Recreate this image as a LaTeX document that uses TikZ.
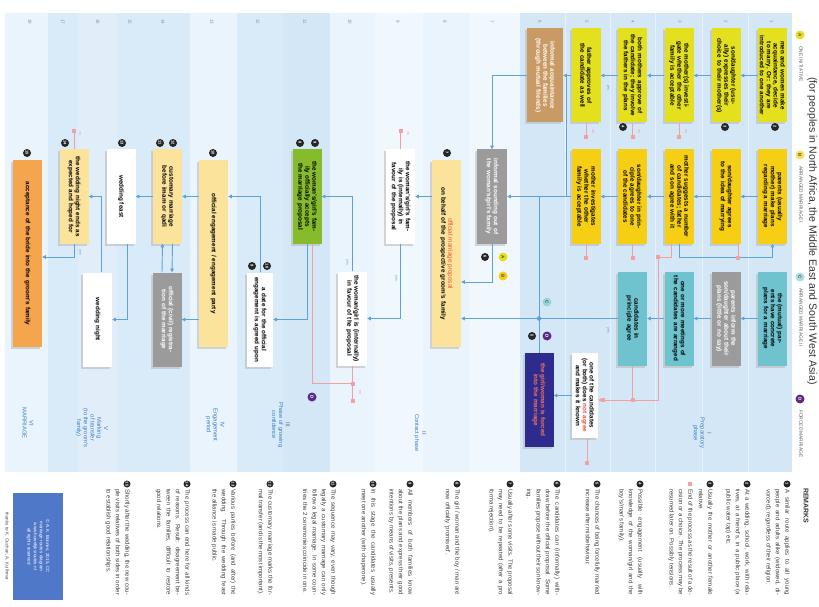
\documentclass[tikz,border=0pt]{standalone}
\usepackage{fontspec}
\setmainfont{Liberation Sans}
\usetikzlibrary{arrows.meta,shadows}
\definecolor{laneA}{HTML}{E4E01E}
\definecolor{laneB}{HTML}{F6CF14}
\definecolor{pale}{HTML}{FBE39C}
\definecolor{cteal}{HTML}{6FC3CF}
\definecolor{greyb}{HTML}{9B9B9B}
\definecolor{ctan}{HTML}{C99A63}
\definecolor{grass}{HTML}{86BC2C}
\definecolor{orng}{HTML}{F5A54E}
\definecolor{navy}{HTML}{2D2B8E}
\definecolor{flowblue}{HTML}{5EA2DA}
\definecolor{nopepink}{HTML}{F3A0A0}
\definecolor{alarm}{HTML}{F0503A}
\definecolor{phaseblue}{HTML}{3B7CC4}
\definecolor{fpurple}{HTML}{5A2A86}
\definecolor{creditblue}{HTML}{5078C8}
\definecolor{bgA}{HTML}{D4E7F6}
\definecolor{bgB}{HTML}{D9EBF8}
\definecolor{bgC}{HTML}{EAF4FC}
\definecolor{bgD}{HTML}{E1EEF9}
\definecolor{bgE}{HTML}{F1F8FD}
\tikzset{
  box/.style={rotate=-90, inner sep=1.5pt, align=center,
    font=\fontsize{6.3}{6.9}\selectfont\bfseries,
    drop shadow={shadow xshift=-2pt, shadow yshift=-2pt, fill=black!30}},
  lanebox/.style={box, minimum width=94pt, text width=87pt, minimum height=29pt},
  tallbox/.style={box, minimum width=187pt, text width=178pt, minimum height=29pt},
  flow/.style={draw=flowblue, line width=.9pt, -{Triangle[length=3.6pt,width=3.6pt]}},
  link/.style={draw=flowblue, line width=.9pt},
  nope/.style={draw=nopepink, line width=.9pt},
  stopdot/.style={rectangle, fill=nopepink, minimum size=4pt, inner sep=0pt},
  jdot/.style={circle, fill=flowblue, minimum size=4.5pt, inner sep=0pt},
  badge/.style={circle, fill=black!85, text=white, minimum size=8pt, inner sep=0pt, rotate=-90,
    font=\fontsize{4}{4}\selectfont\bfseries},
  pathtag/.style={circle, minimum size=9pt, inner sep=0pt, rotate=-90,
    font=\fontsize{4.5}{4.5}\selectfont\bfseries, text=black!70},
  rownum/.style={rotate=-90, font=\fontsize{4.5}{4.5}\selectfont, text=black!45},
  legtext/.style={rotate=-90, anchor=west, inner sep=0pt, font=\fontsize{4.8}{5}\selectfont, text=black!65},
  phaselab/.style={rotate=-90, align=center, text=phaseblue, font=\fontsize{5.8}{6.8}\selectfont},
  yeslab/.style={rotate=-90, inner sep=0pt, font=\fontsize{3.6}{4}\selectfont, text=flowblue},
  nolab/.style={rotate=-90, inner sep=0pt, font=\fontsize{3.6}{4}\selectfont, text=alarm!60},
  notetext/.style={rotate=-90, anchor=north west, inner sep=0pt, text width=106pt, align=justify,
    font=\fontsize{6.1}{9.4}\selectfont, text=black!75},
}
\begin{document}
\begin{tikzpicture}[x=1pt,y=-1pt]
  \useasboundingbox (0,0) rectangle (819,607);

  % background stripes (phases VI ... I)
  \foreach \xa/\xb/\col in {5/48/bgC, 48/78/bgB, 78/117/bgD, 117/147/bgB, 147/190/bgB, 190/237/bgC,
      237/283/bgB, 283/330/bgA, 330/375/bgC, 375/423/bgE, 423/470/bgC, 470/520/bgE, 520/792/bgA}
    \fill[\col] (\xa,13) rectangle (\xb,472);
  \foreach \xr in {565,610,655,702,748}
    \draw[white!45!bgA, line width=.6pt] (\xr,13) -- (\xr,472);

  % row numbers
  \foreach \n/\cx in {1/772,2/726,3/680,4/633,5/587,6/540,7/492,8/445,9/398,10/350,
      11/305,12/258,13/212,14/163,15/130,16/98,17/63,18/30}
    \node[rownum] (row\n) at (\cx,22) {\n};

  % title and legend
  \node[rotate=-90, anchor=west, inner sep=0pt, font=\fontsize{10.5}{12}\selectfont, text=black!80]
    (title) at (812,77) {(for peoples in North Africa, the Middle East and South West Asia)};
  \node[pathtag, fill=laneA] (legA) at (800,35) {A};
  \node[legtext] at (801,46) {ONE INITIATIVE};
  \node[pathtag, fill=laneB!70] (legB) at (800,155) {B};
  \node[legtext] at (801,166) {ARRANGED MARRIAGE I};
  \node[pathtag, fill=cteal!60] (legC) at (800,277) {C};
  \node[legtext] at (801,288) {ARRANGED MARRIAGE II};
  \node[pathtag, fill=fpurple, text=white] (legD) at (800,399) {D};
  \node[legtext] at (801,410) {FORCED MARRIAGE};

  % lane A: one initiative
  \node[lanebox, fill=laneA] (A1) at (772.5,75.5) {men and women make acquaintance, decide to marry. Or: they are introduced to one another};
  \node[lanebox, fill=laneA] (A2) at (726,75.5) {son/daughter (usually) expresses their choice to their mother(s)};
  \node[lanebox, fill=laneA] (A3) at (679,75.5) {the mother(s) investigate whether the other family is acceptable};
  \node[lanebox, fill=laneA] (A4) at (632.5,75.5) {both mothers approve of the candidate; they involve the fathers in the plans};
  \node[lanebox, fill=laneA] (A5) at (586,75.5) {father approves of the candidate as well};
  \node[lanebox, fill=ctan, text=white, minimum height=36pt] (A6) at (545,75.5) {informal acquaintance between the families (through mutual friends)};

  % lane B: arranged marriage I
  \node[lanebox, fill=laneB] (B1) at (772.5,196.5) {parents (usually mother) make plans regarding a marriage};
  \node[lanebox, fill=laneB] (B2) at (726,196.5) {son/daughter agrees to the idea of marrying};
  \node[lanebox, fill=laneB] (B3) at (679,196.5) {mother suggests a number of candidates; father and son agree with it};
  \node[lanebox, fill=laneB] (B4) at (632.5,196.5) {son/daughter in principle agrees to one of the candidates};
  \node[lanebox, fill=laneB] (B5) at (586,196.5) {mother investigates whether the other family is acceptable};

  % lane C: arranged marriage II
  \node[lanebox, fill=cteal] (C1) at (772.5,318.5) {the (mutual) parents have concrete plans for a marriage};
  \node[lanebox, fill=greyb, text=white] (C2) at (726,318.5) {parents inform the son/daughter about their plans (little or no say)};
  \node[lanebox, fill=cteal] (C3) at (679,318.5) {one or more meetings of the candidates are arranged};
  \node[lanebox, fill=cteal] (C4) at (632.5,318.5) {candidates in principle agree};

  % forced marriage
  \node[lanebox, fill=white, minimum width=85pt, text width=78pt, minimum height=26pt] (Wnot) at (585,395.5)
    {one of the candidates (or both) does \textcolor{alarm}{not agree} and makes it known};
  \node[lanebox, fill=navy, text=alarm!80!white] (F) at (539,400) {the girl/woman is forced into the marriage};

  % contact phase and later
  \node[lanebox, fill=greyb, text=white, minimum height=30pt] (G7) at (492,196.5) {informal sounding out of the woman's/girl's family};
  \node[tallbox, fill=pale] (P8) at (446.5,253.5) {\textcolor{alarm}{\mdseries official marriage proposal}\\on behalf of the prospective groom's family};
  \node[lanebox, fill=white] (W9) at (400.5,196.5) {the woman's/girl's family is (internally) in favour of the proposal};
  \node[lanebox, fill=white] (W10) at (352.5,318.5) {the woman/girl is (internally) in favour of the proposal};
  \node[lanebox, fill=grass] (G11) at (307,196.5) {the woman's/girl's family officially accepts the marriage proposal};
  \node[lanebox, fill=white, minimum height=26pt] (W12) at (260,319.5) {a date for the official engagement is agreed upon};
  \node[tallbox, fill=pale] (Y13) at (213.5,253.5) {official engagement / engagement party};
  \node[lanebox, fill=pale] (Y14) at (167.5,196.5) {customary marriage before imam or qadi};
  \node[lanebox, fill=greyb, text=white] (Gr14) at (167,319.5) {official (civil) registration of the marriage};
  \node[lanebox, fill=white] (W15) at (121,196.5) {wedding feast};
  \node[lanebox, fill=white] (W16) at (97.5,319.5) {wedding night};
  \node[lanebox, fill=pale] (Y17) at (74,196.5) {the wedding night ends as expected and hoped for};
  \node[tallbox, fill=orng] (O18) at (27.5,253.5) {acceptance of the bride into the groom's family};

  % helper levels
  \coordinate (jA) at (566,75.5);
  \coordinate (jP) at (0,282);
  \coordinate (jN) at (0,400);
  \coordinate (jM) at (0,383);
  \coordinate (jO) at (0,257);
  \coordinate (jQ) at (658,257);

  % connectors
  \foreach \a/\b in {A1/A2,A2/A3,A3/A4,A4/A5,A5/A6,B1/B2,B2/B3,B3/B4,B4/B5,B5/G7,C1/C2,C2/C3,C3/C4}
    \draw[flow] (\a) -- (\b);
  \draw[flow] (B3.east) -- ++(0,14) -| (B1.east);
  \draw[link] (jA) -- (jA |- B5);
  \draw[flow] (A6) -| (G7);
  \draw[link] (F.west |- B5) -- (F.west);
  \draw[flow] (C4) -- (P8.north |- C4);
  \node[jdot] at (F |- C4) {};
  \draw[flow] (Wnot) -- (Wnot -| F.north);
  \draw[flow] (G7.east) |- (P8.north |- jP);
  \draw[flow] (P8.south |- W9) -- (W9);
  \draw[flow] (W9) |- (W10);
  \draw[flow] (W10) |- (G11);
  \draw[flow] (G11) |- (W12);
  \draw[flow] (W12.west) |- (Y13.north |- G11);
  \draw[flow] (Y13.south |- Y14) -- (Y14);
  \draw[flow] (Y13.south |- Gr14) -- (Gr14);
  \draw[flow] ([xshift=-5pt]Gr14.west) -- ([xshift=-5pt]Y14.east);
  \draw[flow] ([xshift=5pt]Y14.east) -- ([xshift=5pt]Gr14.west);
  \draw[flow] (Y14) -- (W15);
  \draw[flow] ([xshift=6pt]W15.east) |- (W16);
  \draw[flow] ([xshift=4pt]W16.west) |- (Y17);
  \draw[flow] (Y17.east) |- (O18.north |- jO);

  % end of the process
  \foreach \b in {A3,A4,A5,B4,B5}
    \draw[nope] (\b.east) -- ++(0,14) node[stopdot] {};
  \draw[nope] ([xshift=12pt]B2.east) -- ++(0,14) node[stopdot] {};
  \draw[nope, -{Triangle[length=3.6pt,width=3.6pt]}] ([xshift=-8pt]B3.east) |- (jQ) -- (jQ |- jN) -- (Wnot.north |- jN);
  \node[stopdot] at (jQ) {};
  \draw[nope] (C4.east) -- (C4.east |- jN) node[stopdot] {};
  \node[stopdot] at (603,400) {};
  \draw[nope] ([xshift=2pt]Wnot.east) -- ++(0,25) node[stopdot] {};
  \draw[nope] (W9.west) -- ++(0,-18) node[stopdot] {};
  \draw[nope] (W10.east) -- ++(0,18) node[stopdot] {} -- ++(0,17) node[stopdot] {};
  \draw[nope] ([xshift=5pt]G11.east) |- (W10.east |- jM);
  \draw[nope] (Y17.west) -- ++(0,-18) node[stopdot] {};
  \node[nolab] at (686,132) {no};
  \node[nolab] at (639,132) {no};
  \node[nolab] at (593,132) {no};
  \node[nolab] at (408,134) {no};
  \node[nolab] at (360,392) {no};
  \node[nolab] at (80,134) {no};

  \node[yeslab] at (608,88) {yes};
  \node[yeslab] at (608,330) {yes};
  \node[yeslab] at (396,278) {yes};
  \node[yeslab] at (347,262) {yes};
  \node[yeslab] at (80,252) {yes};

  % path tags
  \node[pathtag, fill=laneA] (tagA) at (503,257) {A};
  \node[pathtag, fill=laneB] (tagB) at (503,276) {B};
  \node[pathtag, fill=cteal!70] (tagC) at (547,302) {C};
  \node[pathtag, fill=fpurple, text=white] (tagD) at (547,336) {D};
  \node[pathtag, fill=fpurple, text=white] (tagD2) at (312,397) {D};

  % note badges
  \node[badge] at (775,127) {2};
  \node[badge] at (725,127) {3};
  \node[badge] at (623,127) {4};
  \node[badge] at (485,257) {6};
  \node[badge] at (532,336) {5};
  \node[badge] at (447,153) {7};
  \node[badge] at (300,143) {8};
  \node[badge] at (315,143) {9};
  \node[badge] at (252,266) {9};
  \node[badge] at (267,266) {10};
  \node[badge] at (213,153) {10};
  \node[badge] at (160,143) {11};
  \node[badge] at (173,143) {12};
  \node[badge] at (122,143) {13};
  \node[badge] at (65,143) {14};
  \node[badge] at (27,153) {15};

  % phases
  \node[phaselab] (phI) at (702,433) {I\\Preparatory\\phase};
  \node[phaselab] (phII) at (420,433) {II\\Contact phase};
  \node[phaselab] (phIII) at (281,425) {III\\Phase of growing\\confidence};
  \node[phaselab] (phIV) at (215,425) {IV\\Engagement\\period};
  \node[phaselab] (phV) at (92,428) {V\\Marking\\of transfer\\(to the groom's\\family)};
  \node[phaselab] (phVI) at (28,423) {VI\\MARRIAGE};

  % remarks
  \node[rotate=-90, anchor=west, inner sep=0pt, font=\fontsize{7}{8}\selectfont\bfseries, text=black!80]
    (remarks) at (806,488) {REMARKS};
  \foreach \bx/\nb/\txt in {
      787/1/{A similar route applies to all young people and adults alike (widowed, divorced), regardless of their religion.},
      747/2/{At a wedding, school, work, with relatives, at a friend's, in a public place (a public water tap) etc.},
      710/3/{Usually the mother or another female relative.},
      640/4/{Possible engagement (usually with knowledge of the woman/girl and the boy's/man's family).},
      597/5/{The chances of being forcefully married increase after misbehaviour.},
      557/6/{The candidates can (informally) withdraw before the official proposal. Some families propose without their son knowing.},
      510/7/{Usually after some visits. The proposal may need to be repeated (after a pro forma rejection).},
      457/8/{The girl / woman and the boy / man are now officially `promised'.},
      410/9/{All members of both families know about the plans and express their good intentions by means of visits, presents.},
      373/10/{In this stage the candidates usually meet one another (with chaperone).},
      333/11/{The sequence may vary, even though legally a customary marriage can only follow a legal marriage. In some countries the 2 ceremonies coincide in one.},
      270/12/{The customary marriage marks the formal transfer (and is the most important).},
      233/13/{Various parties before (and after) the wedding. Through the wedding feast the alliance is made public.},
      187/14/{The process can end here for all kinds of reasons. Result: disagreement between the families, difficult to restore good relations.},
      127/15/{Shortly after the wedding, the new couple visits relatives of both sides in order to establish good relationships.}}
  {
    \node[badge, minimum size=7pt] (note\nb) at (\bx,484) {\nb};
    \node[notetext] at (\bx+3,489) {\txt};
  }
  \node[stopdot] (noteEnd) at (690,484) {};
  \node[notetext] at (693,489) {End of the process as the result of a decision or a choice. The process may be resumed later on. Possibly tensions.};

  % credits
  \node[rotate=-90, fill=creditblue, text=white, minimum width=107pt, minimum height=50pt, text width=100pt,
    align=center, inner sep=2pt, font=\fontsize{4.6}{6.2}\selectfont] (credit) at (38,546.5)
    {\copyright{} A.K. Bonnes, 2015, CC\\marriage routes diagram\\www.huwelijksroutes.nl\\all rights reserved};
  \node[rotate=-90, inner sep=0pt, font=\fontsize{4.6}{5}\selectfont, text=black!70] (thanks) at (7,546.5)
    {thanks to K. Ouchan, A. Kuilhmar};
\end{tikzpicture}
\end{document}
